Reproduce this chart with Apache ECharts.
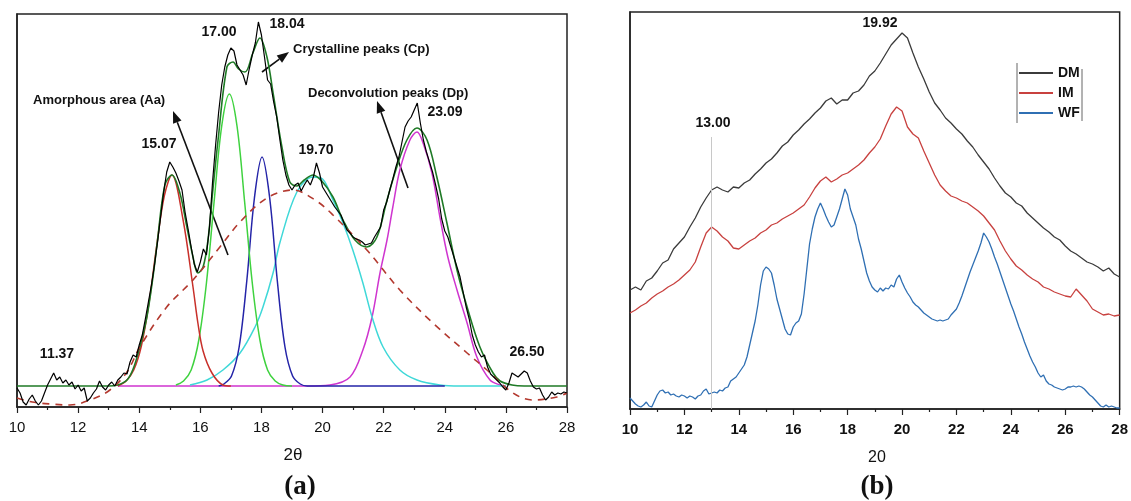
<!DOCTYPE html>
<html>
<head>
<meta charset="utf-8">
<script src="https://cdn.jsdelivr.net/npm/echarts@6/dist/echarts.min.js"></script>
<style>
  html, body { margin: 0; padding: 0; background: #fff; }
  #chart { width: 1131px; height: 501px; }
</style>
</head>
<body>
<div id="chart"></div>
<script>
// ---- panel (a): XRD pattern with deconvolution (values in arbitrary intensity units) ----
const xTicks = [10, 12, 14, 16, 18, 20, 22, 24, 26, 28]

// measured pattern, one value every 0.1 deg from 10.0 to 28.0 (one row per degree)
const measuredA = [
  19, 14, 5, 2, 8, 12, 6, 2, 6, 14,
  22, 28, 34, 27, 30, 24, 27, 22, 25, 18,
  22, 16, 19, 6, 9, 14, 18, 26, 20, 17,
  22, 25, 21, 27, 30, 34, 33, 45, 52, 50,
  62, 72, 88, 105, 122, 142, 165, 190, 215, 235,
  245, 240, 234, 226, 217, 195, 178, 160, 143, 135,
  145, 158, 152, 180, 225, 262, 295, 322, 340, 352,
  359, 356, 342, 337, 332, 322, 338, 352, 364, 385,
  372, 350, 327, 323, 305, 290, 268, 247, 232, 222,
  217, 222, 224, 216, 222, 227, 222, 230, 244, 234,
  220, 215, 210, 205, 200, 196, 192, 184, 177, 174,
  170, 168, 167, 165, 162, 163, 164, 170, 175, 180,
  197, 205, 217, 228, 240, 250, 265, 280, 286, 290,
  297, 304, 284, 267, 255, 245, 235, 222, 208, 188,
  176, 170, 160, 150, 140, 130, 115, 100, 88, 72,
  62, 55, 50, 52, 40, 33, 30, 27, 24, 20,
  17, 24, 34, 32, 30, 33, 36, 34, 26, 20,
  18, 19, 12, 7, 10, 15, 12, 14, 13, 15,
  14
]

// overall fitted curve
const fitA = [
  [10, 21], [13.0, 21], [13.3, 22], [13.6, 27], [13.8, 38], [14.02, 60], [14.25, 90],
  [14.45, 130], [14.58, 162], [14.84, 222], [15.07, 232], [15.33, 214], [15.56, 180],
  [15.76, 150], [15.92, 134], [16.09, 140], [16.25, 167], [16.41, 217], [16.58, 267],
  [16.87, 340], [17.07, 345], [17.25, 338], [17.46, 335], [17.72, 354], [17.95, 369],
  [18.18, 350], [18.38, 314], [18.67, 260], [18.93, 225], [19.16, 221], [19.4, 227],
  [19.69, 232], [20.0, 225], [20.34, 210], [20.67, 187], [21.06, 167], [21.45, 160],
  [21.78, 170], [22.11, 207], [22.43, 240], [22.76, 267], [23.09, 279], [23.42, 267],
  [23.74, 230], [24.07, 184], [24.4, 137], [24.73, 100], [25.15, 60], [25.58, 34],
  [25.81, 26], [26.2, 22], [26.6, 21], [28, 21]
]

// deconvoluted peaks
const peak15 = [
  [13.3, 21], [13.57, 26], [13.82, 37], [14.07, 61], [14.32, 104], [14.57, 161],
  [14.82, 211], [15.07, 232], [15.43, 188], [15.76, 120], [15.92, 84], [16.09, 56],
  [16.38, 34], [16.74, 22], [17.0, 21]
]
const peak17 = [
  [15.2, 22], [15.45, 26], [15.7, 37], [15.95, 67], [16.2, 124], [16.45, 205],
  [16.7, 281], [16.95, 313], [17.2, 281], [17.45, 205], [17.7, 124], [17.95, 67],
  [18.2, 37], [18.45, 26], [18.7, 22], [19.0, 21]
]
const peak18 = [
  [16.6, 21], [16.77, 23], [17.02, 31], [17.27, 60], [17.52, 126], [17.77, 209],
  [18.02, 250], [18.27, 209], [18.52, 126], [18.77, 60], [19.02, 31], [19.27, 23],
  [19.5, 21], [20.0, 21], [24.0, 21]
]
const peak197 = [
  [15.66, 22], [16.22, 27], [16.74, 37], [17.3, 54], [17.79, 80], [18.05, 100],
  [18.38, 134], [18.61, 165], [19.16, 215], [19.69, 230], [20.0, 228], [20.34, 207],
  [20.67, 184], [20.99, 157], [21.32, 124], [21.62, 90], [21.98, 60], [22.53, 37],
  [23.09, 27], [23.84, 22], [24.5, 21], [26.0, 21]
]
const peak23 = [
  [13.3, 21], [19.5, 21], [20.24, 22], [20.9, 30], [21.32, 57], [21.62, 90],
  [21.88, 134], [22.11, 167], [22.3, 200], [22.53, 237], [22.86, 267], [23.09, 275],
  [23.29, 264], [23.58, 234], [23.84, 190], [24.1, 150], [24.4, 117], [24.73, 84],
  [25.05, 50], [25.48, 27], [25.81, 22], [26.0, 21]
]
// amorphous halo (dashed)
const amorphous = [
  [10, 9], [10.5, 5], [11.08, 3], [11.73, 2], [12.39, 7], [13.04, 17], [13.6, 35],
  [14.02, 60], [14.9, 100], [15.76, 127], [16.64, 160], [17.3, 185], [18.18, 209],
  [19.03, 217], [19.8, 206], [20.34, 192], [21.45, 157], [22.53, 117], [23.61, 84],
  [24.73, 54], [25.38, 37], [26.23, 14], [26.88, 7], [27.67, 10], [28, 14]
]

// ---- panel (b): DM / IM / WF patterns ----
// one value every 0.2 deg from 10.0 to 28.0 (one row per degree)
const dm = [
  119, 122, 119, 128, 131,
  138, 146, 149, 160, 166,
  172, 182, 191, 202, 211,
  219, 222, 219, 217, 222,
  221, 226, 229, 235, 240,
  246, 250, 256, 263, 267,
  274, 279, 285, 290, 296,
  301, 308, 311, 305, 309,
  309, 316, 318, 324, 333,
  338, 346, 355, 364, 370,
  376, 371, 356, 342, 330,
  317, 306, 299, 291, 286,
  280, 275, 268, 262, 254,
  247, 240, 231, 223, 216,
  212, 206, 203, 196, 191,
  186, 181, 177, 172, 169,
  163, 158, 155, 151, 147,
  145, 142, 138, 141, 135,
  132
]
const im = [
  96, 99, 103, 106, 111,
  115, 118, 122, 125, 129,
  134, 139, 147, 162, 176,
  182, 178, 172, 168, 161,
  160, 164, 168, 171, 176,
  179, 184, 186, 190, 193,
  196, 200, 204, 212, 221,
  228, 232, 227, 230, 234,
  236, 240, 244, 249, 256,
  262, 270, 283, 295, 302,
  298, 282, 275, 271, 258,
  246, 234, 224, 218, 213,
  211, 208, 206, 202, 198,
  193, 186, 179, 168, 158,
  150, 143, 139, 134, 130,
  127, 122, 120, 117, 115,
  113, 112, 120, 114, 108,
  100, 97, 94, 95, 93,
  94
]
// one value every 0.1 deg
const wf = [
  11, 8, 5, 3, 2, 4, 7, 3, 2, 8,
  14, 18, 19, 16, 17, 14, 15, 13, 12, 14,
  13, 11, 13, 12, 10, 13, 14, 18, 20, 15,
  16, 17, 16, 19, 18, 21, 22, 28, 30, 32,
  36, 40, 44, 52, 64, 76, 88, 104, 124, 138,
  142, 140, 136, 124, 110, 100, 90, 80, 75, 74,
  82, 86, 88, 95, 115, 140, 165, 180, 192, 200,
  206, 200, 193, 187, 182, 184, 192, 200, 210, 220,
  214, 200, 192, 184, 170, 160, 148, 136, 128, 122,
  119, 117, 121, 118, 121, 120, 124, 122, 130, 134,
  127, 121, 116, 112, 107, 104, 102, 99, 96, 94,
  92, 90, 89, 88, 89, 88, 89, 90, 94, 97,
  100, 106, 113, 121, 129, 137, 144, 151, 158, 166,
  176, 172, 167, 160, 152, 145, 137, 129, 121, 113,
  105, 98, 90, 82, 75, 67, 60, 53, 47, 42,
  36, 32, 34, 28, 25, 24, 22, 21, 20, 19,
  20, 22, 22, 23, 22, 23, 22, 20, 17, 14,
  12, 9, 6, 3, 2, 4, 2, 3, 2, 1,
  1
]
const refLine = 13.00     // grey marker line in (b)
const refLineTop = 272

const sans = '"Liberation Sans", Arial, sans-serif'
const serif = '"Liberation Serif", "Times New Roman", serif'

const toPairs = (vals, step) => vals.map((v, i) => [+(10 + i * step).toFixed(2), v])

const chart = echarts.init(document.getElementById('chart'))

const xAxisBase = (gridIndex, bold) => ({
  type: 'value',
  gridIndex,
  min: xTicks[0],
  max: xTicks[xTicks.length - 1],
  interval: 2,
  axisLine: { show: true, lineStyle: { color: '#222', width: 1.5 } },
  axisTick: { show: true, inside: false, length: 6, lineStyle: { color: '#222', width: 1.2 } },
  minorTick: { show: true, splitNumber: 2, length: 3, lineStyle: { color: '#222', width: 1.2 } },
  splitLine: { show: false },
  axisLabel: {
    color: '#111', fontSize: 15, fontFamily: sans,
    fontWeight: bold ? 'bold' : 'normal', margin: 13
  }
})

const yAxisBase = (gridIndex, max) => ({
  type: 'value',
  gridIndex,
  min: 0,
  max,
  axisLine: { show: true, lineStyle: { color: '#222', width: 1.5 } },
  axisTick: { show: false },
  axisLabel: { show: false },
  splitLine: { show: false }
})

const lineA = (name, data, color, width, extra) => Object.assign({
  name, type: 'line', xAxisIndex: 0, yAxisIndex: 0, data,
  symbol: 'none', smooth: 0.35, silent: true,
  lineStyle: { color, width }
}, extra || {})

const lineB = (name, data, color) => ({
  name, type: 'line', xAxisIndex: 1, yAxisIndex: 1, data,
  symbol: 'none', silent: true,
  itemStyle: { color },
  lineStyle: { color, width: 1.3 }
})

function txt (x, y, text, font, align) {
  return {
    type: 'text', x, y, silent: true,
    style: {
      text, font, fill: '#111',
      align: align || 'center', verticalAlign: 'middle',
      textAlign: align || 'center', textVerticalAlign: 'middle'
    }
  }
}

function arrow (x1, y1, x2, y2) {
  const a = Math.atan2(y2 - y1, x2 - x1)
  const L = 12, W = 4.5
  const bx = x2 - L * Math.cos(a), by = y2 - L * Math.sin(a)
  const px = -Math.sin(a) * W, py = Math.cos(a) * W
  return [
    { type: 'line', silent: true, shape: { x1, y1, x2: bx, y2: by }, style: { stroke: '#111', lineWidth: 1.6 } },
    { type: 'polygon', silent: true, shape: { points: [[x2, y2], [bx + px, by + py], [bx - px, by - py]] }, style: { fill: '#111' } }
  ]
}

const peakFont = 'bold 14px ' + sans
const noteFont = 'bold 13px ' + sans

const option = {
  animation: false,
  backgroundColor: '#fff',
  grid: [
    { left: 17, top: 14, width: 550, height: 393, show: true, borderColor: '#222', borderWidth: 1.5, backgroundColor: 'transparent' },
    { left: 630, top: 12, width: 493, height: 397, show: true, borderColor: '#222', borderWidth: 1.5, backgroundColor: 'transparent' }
  ],
  xAxis: [xAxisBase(0, false), xAxisBase(1, true)],
  yAxis: [yAxisBase(0, 393), yAxisBase(1, 397)],
  legend: {
    data: ['DM', 'IM', 'WF'],
    orient: 'vertical',
    left: 1019,
    top: 66,
    padding: 0,
    itemGap: 6,
    itemWidth: 34,
    itemHeight: 2,
    icon: 'rect',
    selectedMode: false,
    textStyle: { color: '#111', fontSize: 14, fontWeight: 'bold', fontFamily: sans, padding: [0, 0, 0, 0] }
  },
  series: [
    lineA('peak23', peak23, '#cf35cf', 1.5),
    lineA('peak197', peak197, '#3fd8d8', 1.5),
    lineA('peak18', peak18, '#2424a8', 1.5),
    lineA('peak17', peak17, '#3fd23f', 1.5),
    lineA('peak15', peak15, '#c8302a', 1.5),
    lineA('fit', fitA, '#1f7a26', 1.6),
    lineA('amorphous', amorphous, '#b3392f', 1.6, { lineStyle: { color: '#b3392f', width: 1.6, type: [7, 6] } }),
    lineA('measured', toPairs(measuredA, 0.1), '#000', 1.2, { smooth: false }),

    lineB('DM', toPairs(dm, 0.2), '#3b3b3b'),
    lineB('IM', toPairs(im, 0.2), '#c8413f'),
    Object.assign(lineB('WF', toPairs(wf, 0.1), '#2f6fb3'), {
      markLine: {
        silent: true, symbol: 'none', label: { show: false },
        lineStyle: { color: '#c8c8c8', width: 1, type: 'solid' },
        data: [[{ coord: [refLine, refLineTop] }, { coord: [refLine, 0] }]]
      }
    })
  ],
  graphic: [
    // panel (a) annotations
    txt(57, 354, '11.37', peakFont),
    txt(159, 144, '15.07', peakFont),
    txt(219, 32, '17.00', peakFont),
    txt(287, 24, '18.04', peakFont),
    txt(316, 150, '19.70', peakFont),
    txt(445, 112, '23.09', peakFont),
    txt(527, 352, '26.50', peakFont),
    txt(33, 100, 'Amorphous area (Aa)', noteFont, 'left'),
    txt(293, 49, 'Crystalline peaks (Cp)', noteFont, 'left'),
    txt(308, 93, 'Deconvolution peaks (Dp)', noteFont, 'left'),
    ...arrow(228, 255, 173, 111),
    ...arrow(262, 72, 289, 52),
    ...arrow(408, 188, 377, 101),
    txt(293, 455, '2θ', '17px ' + sans),
    txt(300, 487, '(a)', 'bold 27px ' + serif),
    // panel (b) annotations
    txt(713, 123, '13.00', peakFont),
    txt(880, 23, '19.92', peakFont),
    { type: 'line', silent: true, shape: { x1: 1017, y1: 63, x2: 1017, y2: 123 }, style: { stroke: '#666', lineWidth: 1 } },
    { type: 'line', silent: true, shape: { x1: 1082, y1: 69, x2: 1082, y2: 121 }, style: { stroke: '#666', lineWidth: 1 } },
    txt(877, 458, '20', '16px ' + sans),
    txt(877, 487, '(b)', 'bold 27px ' + serif)
  ]
}

chart.setOption(option)
window.addEventListener('resize', () => chart.resize())
</script>
</body>
</html>
